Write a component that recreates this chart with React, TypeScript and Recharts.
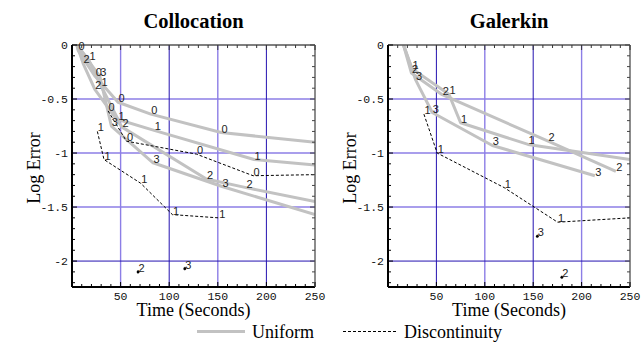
import React from "react";
import { LineChart, Line, XAxis, YAxis, CartesianGrid, LabelList } from "recharts";

// ---- Collocation: uniform refinement (gray), one pair of arrays per degree
const colUniT0 = [5, 6.3, 23.8, 47.4, 81.1, 153.4, 250];
const colUniE0 = [0, -0.05, -0.29, -0.53, -0.64, -0.81, -0.9];
const colUniT1 = [5, 17.4, 29.9, 47.4, 84.5, 187.3, 250];
const colUniE1 = [0, -0.14, -0.38, -0.69, -0.79, -1.06, -1.11];
const colUniT2 = [5, 11.4, 23.5, 51.5, 138.3, 179.1, 250];
const colUniE2 = [0, -0.17, -0.41, -0.76, -1.24, -1.32, -1.45];
const colUniT3 = [5, 28.6, 40.5, 83.4, 154.4, 250];
const colUniE3 = [0, -0.29, -0.75, -1.09, -1.31, -1.57];

// ---- Collocation: discontinuity-based refinement (dashed)
const colDisT0 = [37.1, 56, 128, 186.3, 250];
const colDisE0 = [-0.61, -0.89, -1.01, -1.21, -1.2];
const colDisT1 = [26.1, 32.9, 70.7, 103.3, 150.9];
const colDisE1 = [-0.8, -1.06, -1.28, -1.57, -1.6];
const colDisT2 = [67.9];
const colDisE2 = [-2.1];
const colDisT3 = [116];
const colDisE3 = [-2.07];

// ---- Galerkin: uniform
const galUniT1 = [16, 24.9, 62.9, 75, 144.7, 250];
const galUniE1 = [0, -0.22, -0.455, -0.72, -0.92, -1.06];
const galUniT2 = [16, 24.2, 56, 165.4, 235.4];
const galUniE2 = [0, -0.26, -0.46, -0.89, -1.17];
const galUniT3 = [16, 28.4, 45.7, 107.8, 213.7];
const galUniE3 = [0, -0.32, -0.625, -0.93, -1.21];

// ---- Galerkin: discontinuity
const galDisT1 = [37.1, 50.8, 120, 175.2, 250];
const galDisE1 = [-0.64, -1.0, -1.32, -1.64, -1.6];
const galDisT2 = [179.5];
const galDisE2 = [-2.15];
const galDisT3 = [154.2];
const galDisE3 = [-1.77];

// axes
const X_MAX = 250;
const Y_MIN = -2.24;
const xTicks = [10, 20, 30, 40, 50, 60, 70, 80, 90, 100, 110, 120, 130, 140, 150, 160, 170, 180, 190, 200, 210, 220, 230, 240, 250];
const yTicks = [0, -0.1, -0.2, -0.3, -0.4, -0.5, -0.6, -0.7, -0.8, -0.9, -1, -1.1, -1.2, -1.3, -1.4, -1.5, -1.6, -1.7, -1.8, -1.9, -2, -2.1, -2.2];

type Series = { id: string; dashed: boolean; t: number[]; e: number[] };

const collocation: Series[] = [
  { id: "0", dashed: false, t: colUniT0, e: colUniE0 },
  { id: "1", dashed: false, t: colUniT1, e: colUniE1 },
  { id: "2", dashed: false, t: colUniT2, e: colUniE2 },
  { id: "3", dashed: false, t: colUniT3, e: colUniE3 },
  { id: "0", dashed: true, t: colDisT0, e: colDisE0 },
  { id: "1", dashed: true, t: colDisT1, e: colDisE1 },
  { id: "2", dashed: true, t: colDisT2, e: colDisE2 },
  { id: "3", dashed: true, t: colDisT3, e: colDisE3 },
];

const galerkin: Series[] = [
  { id: "1", dashed: false, t: galUniT1, e: galUniE1 },
  { id: "2", dashed: false, t: galUniT2, e: galUniE2 },
  { id: "3", dashed: false, t: galUniT3, e: galUniE3 },
  { id: "1", dashed: true, t: galDisT1, e: galDisE1 },
  { id: "2", dashed: true, t: galDisT2, e: galDisE2 },
  { id: "3", dashed: true, t: galDisT3, e: galDisE3 },
];

// the shared start of the gray curves and the points on the right edge carry no number
const toPoints = (s: Series) =>
  s.t.map((t, i) => ({
    t,
    e: s.e[i],
    tag: (s.dashed || i > 0) && t < X_MAX ? s.id : "",
  }));

// invisible helper so the frame axes (top / right) have a series
const frameData = [
  { t: 0, e: Y_MIN },
  { t: X_MAX, e: 0 },
];

const GRID_LIGHT = "#8c7ee6";
const GRID_DARK = "#2412b0";
const MONO = "'Liberation Mono', 'DejaVu Sans Mono', monospace";
const SERIF = "'Liberation Serif', 'Times New Roman', serif";
const SANS = "'Liberation Sans', Arial, sans-serif";

const isMajorX = (v: number) => v % 50 === 0;
const isMajorY = (v: number) => Math.abs(v * 2 - Math.round(v * 2)) < 1e-6;

const BottomTick = (p: any) => {
  const v = p.payload.value;
  const major = isMajorX(v);
  return (
    <g>
      <line x1={p.x} x2={p.x} y1={p.y} y2={p.y - (major ? 5 : 3)} stroke="#000" strokeWidth={1} />
      {major && (
        <text x={p.x} y={p.y + 13} textAnchor="middle" fontFamily={MONO} fontSize={11.5} style={{ fill: "#111" }}>
          {v}
        </text>
      )}
    </g>
  );
};

const TopTick = (p: any) => {
  const major = isMajorX(p.payload.value);
  return <line x1={p.x} x2={p.x} y1={p.y} y2={p.y + (major ? 5 : 3)} stroke="#333" strokeWidth={1} />;
};

const LeftTick = (p: any) => {
  const v = p.payload.value;
  const major = isMajorY(v);
  return (
    <g>
      <line x1={p.x} x2={p.x + (major ? 5 : 3)} y1={p.y} y2={p.y} stroke="#000" strokeWidth={1} />
      {major && (
        <text x={p.x - 4} y={p.y + 4} textAnchor="end" fontFamily={MONO} fontSize={11.5} style={{ fill: "#111" }}>
          {v}
        </text>
      )}
    </g>
  );
};

const RightTick = (p: any) => {
  const major = isMajorY(p.payload.value);
  return <line x1={p.x} x2={p.x - (major ? 5 : 3)} y1={p.y} y2={p.y} stroke="#444" strokeWidth={1} />;
};

const renderTag = (p: any) => {
  if (!p.value) return null;
  return (
    <text x={p.x + 0.5} y={p.y} textAnchor="start" fontFamily={SANS} fontSize={11} opacity={0.99} style={{ fill: "#222" }}>
      {p.value}
    </text>
  );
};

interface PanelProps {
  series: Series[];
  left: number;
  width: number;
  axisWidth: number;
  rightGap: number;
  lightV: number[];
  darkV: number[];
}

const Panel: React.FC<PanelProps> = ({ series, left, width, axisWidth, rightGap, lightV, darkV }) => (
  <div style={{ position: "absolute", left, top: 0 }}>
    <LineChart width={width} height={347} margin={{ top: 44, right: rightGap, bottom: 0, left: 0 }}>
      <CartesianGrid
        verticalValues={lightV}
        horizontalValues={[-0.5, -1, -1.5]}
        stroke={GRID_LIGHT}
        strokeWidth={1.4}
      />
      <CartesianGrid verticalValues={darkV} horizontalValues={[-2]} stroke={GRID_DARK} strokeWidth={1} />
      <XAxis
        dataKey="t"
        type="number"
        domain={[0, X_MAX]}
        allowDataOverflow
        ticks={xTicks}
        interval={0}
        tickSize={0}
        tickMargin={0}
        height={60}
        axisLine={{ stroke: "#000", strokeWidth: 2 }}
        tick={(p: any) => <BottomTick {...p} />}
      />
      <XAxis
        xAxisId="top"
        dataKey="t"
        orientation="top"
        type="number"
        domain={[0, X_MAX]}
        allowDataOverflow
        ticks={xTicks}
        interval={0}
        tickSize={0}
        tickMargin={0}
        height={1}
        axisLine={{ stroke: "#555", strokeWidth: 1.5 }}
        tick={(p: any) => <TopTick {...p} />}
      />
      <YAxis
        type="number"
        domain={[Y_MIN, 0]}
        allowDataOverflow
        ticks={yTicks}
        interval={0}
        tickSize={0}
        tickMargin={0}
        width={axisWidth}
        axisLine={{ stroke: "#000", strokeWidth: 2 }}
        tick={(p: any) => <LeftTick {...p} />}
      />
      <YAxis
        yAxisId="right"
        orientation="right"
        type="number"
        domain={[Y_MIN, 0]}
        allowDataOverflow
        ticks={yTicks}
        interval={0}
        tickSize={0}
        tickMargin={0}
        width={1}
        axisLine={{ stroke: "#666", strokeWidth: 1.5 }}
        tick={(p: any) => <RightTick {...p} />}
      />
      <Line
        xAxisId="top"
        yAxisId="right"
        data={frameData}
        dataKey="e"
        stroke="none"
        dot={false}
        activeDot={false}
        isAnimationActive={false}
      />
      {series.map((s, i) => (
        <Line
          key={`s-${i}`}
          data={toPoints(s)}
          dataKey="e"
          type="linear"
          stroke={s.dashed ? "#000" : "#c2c2c2"}
          strokeWidth={s.dashed ? 1 : 3}
          strokeDasharray={s.dashed ? "3 2" : undefined}
          strokeLinejoin="round"
          dot={s.t.length === 1 ? { r: 1.3, fill: "#000", stroke: "#000", strokeWidth: 0.5 } : false}
          activeDot={false}
          isAnimationActive={false}
        >
          <LabelList dataKey="tag" content={renderTag} />
        </Line>
      ))}
    </LineChart>
  </div>
);

export default function App() {
  return (
    <div style={{ position: "absolute", left: 0, top: 0, width: 642, height: 347, background: "#fff", overflow: "hidden" }}>
      <Panel
        series={collocation}
        left={0}
        width={332}
        axisWidth={72}
        rightGap={16}
        lightV={[50, 150]}
        darkV={[100, 200]}
      />
      <Panel
        series={galerkin}
        left={321}
        width={321}
        axisWidth={67}
        rightGap={11}
        lightV={[100, 200]}
        darkV={[50, 150]}
      />
      <svg width={642} height={347} style={{ position: "absolute", left: 0, top: 0, pointerEvents: "none" }}>
        <text x={193.5} y={28} textAnchor="middle" fontFamily={SERIF} fontWeight="bold" fontSize={20.5} fill="#000">
          Collocation
        </text>
        <text x={509} y={28} textAnchor="middle" fontFamily={SERIF} fontWeight="bold" fontSize={20.5} fill="#000">
          Galerkin
        </text>
        <text x={193.5} y={316} textAnchor="middle" fontFamily={SERIF} fontSize={18} fill="#000">
          Time (Seconds)
        </text>
        <text x={509} y={316} textAnchor="middle" fontFamily={SERIF} fontSize={18} fill="#000">
          Time (Seconds)
        </text>
        <text transform="translate(40,168) rotate(-90)" textAnchor="middle" fontFamily={SERIF} fontSize={18} fill="#000">
          Log Error
        </text>
        <text transform="translate(356,168) rotate(-90)" textAnchor="middle" fontFamily={SERIF} fontSize={18} fill="#000">
          Log Error
        </text>
        <line x1={197} x2={245} y1={331.5} y2={331.5} stroke="#c2c2c2" strokeWidth={3} />
        <text x={252} y={338} fontFamily={SERIF} fontSize={18} fill="#000">
          Uniform
        </text>
        <line x1={343} x2={397} y1={331.5} y2={331.5} stroke="#000" strokeWidth={1} strokeDasharray="3 2" />
        <text x={404} y={338} fontFamily={SERIF} fontSize={18} fill="#000">
          Discontinuity
        </text>
      </svg>
    </div>
  );
}
